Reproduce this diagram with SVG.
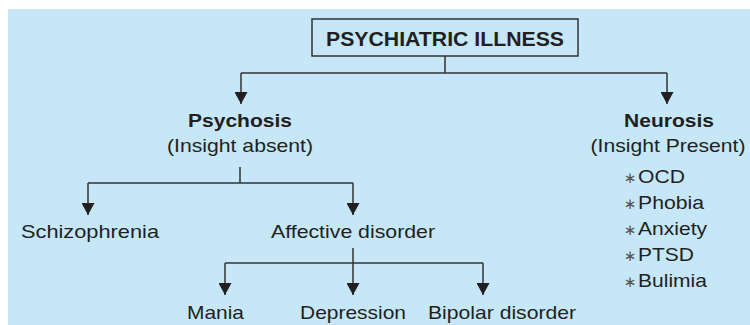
<svg xmlns="http://www.w3.org/2000/svg" width="750" height="325" viewBox="0 0 750 325">
<style>
  text { font-family: "Liberation Sans", Arial, sans-serif; fill: #231f20; }
  .title { font-size: 21px; font-weight: bold; }
  .bold { font-size: 18px; font-weight: bold; }
  .reg { font-size: 18.5px; }
  .star { font-family: "DejaVu Sans", sans-serif; font-size: 15px; fill: #555; }
  .ln { stroke: #333; stroke-width: 1.5; fill: none; }
</style>
<defs>
  <marker id="arr" markerUnits="userSpaceOnUse" markerWidth="13" markerHeight="13" refX="11" refY="6" orient="auto" viewBox="0 0 12 12">
    <path d="M0,0 L11,6 L0,12 Z" fill="#231f20"/>
  </marker>
</defs>
<rect x="0" y="0" width="750" height="325" fill="#ffffff"/>
<rect x="8" y="9" width="742" height="316" fill="#c6e7f8"/>

<g id="connectors">
  <path class="ln" d="M445,56 V73 M241,73 H667"/>
  <path class="ln" d="M241,73 V104" marker-end="url(#arr)"/>
  <path class="ln" d="M667,73 V104" marker-end="url(#arr)"/>
  <path class="ln" d="M240,167 V183 M88,183 H353"/>
  <path class="ln" d="M88,183 V215" marker-end="url(#arr)"/>
  <path class="ln" d="M353,183 V215" marker-end="url(#arr)"/>
  <path class="ln" d="M225,263 H483"/>
  <path class="ln" d="M353,248 V295" marker-end="url(#arr)"/>
  <path class="ln" d="M225,263 V295" marker-end="url(#arr)"/>
  <path class="ln" d="M483,263 V295" marker-end="url(#arr)"/>
</g>

<g id="psychiatric-illness">
  <rect class="ln" x="312" y="19" width="266" height="37"/>
  <text class="title" x="445" y="46" text-anchor="middle" textLength="238" lengthAdjust="spacingAndGlyphs">PSYCHIATRIC ILLNESS</text>
</g>

<g id="psychosis">
  <text class="bold" x="240" y="127" text-anchor="middle" textLength="104" lengthAdjust="spacingAndGlyphs">Psychosis</text>
  <text class="reg" x="240" y="152" text-anchor="middle" textLength="146" lengthAdjust="spacingAndGlyphs">(Insight absent)</text>
</g>

<g id="neurosis">
  <text class="bold" x="669" y="127" text-anchor="middle" textLength="90" lengthAdjust="spacingAndGlyphs">Neurosis</text>
  <text class="reg" x="668" y="152" text-anchor="middle" textLength="155" lengthAdjust="spacingAndGlyphs">(Insight Present)</text>
  <g id="neurosis-list">
    <text class="star" x="630" y="183" text-anchor="middle">∗</text>
    <text class="reg" x="638" y="183" textLength="47" lengthAdjust="spacingAndGlyphs">OCD</text>
    <text class="star" x="630" y="209" text-anchor="middle">∗</text>
    <text class="reg" x="638" y="209" textLength="66" lengthAdjust="spacingAndGlyphs">Phobia</text>
    <text class="star" x="630" y="235" text-anchor="middle">∗</text>
    <text class="reg" x="638" y="235" textLength="69" lengthAdjust="spacingAndGlyphs">Anxiety</text>
    <text class="star" x="630" y="261" text-anchor="middle">∗</text>
    <text class="reg" x="638" y="261" textLength="56" lengthAdjust="spacingAndGlyphs">PTSD</text>
    <text class="star" x="630" y="287" text-anchor="middle">∗</text>
    <text class="reg" x="638" y="287" textLength="69" lengthAdjust="spacingAndGlyphs">Bulimia</text>
  </g>
</g>

<g id="schizophrenia">
  <text class="reg" x="21" y="238" textLength="138" lengthAdjust="spacingAndGlyphs">Schizophrenia</text>
</g>

<g id="affective-disorder">
  <text class="reg" x="271" y="238" textLength="164" lengthAdjust="spacingAndGlyphs">Affective disorder</text>
</g>

<g id="mania">
  <text class="reg" x="187" y="319" textLength="57" lengthAdjust="spacingAndGlyphs">Mania</text>
</g>
<g id="depression">
  <text class="reg" x="300" y="319" textLength="106" lengthAdjust="spacingAndGlyphs">Depression</text>
</g>
<g id="bipolar-disorder">
  <text class="reg" x="428" y="319" textLength="148" lengthAdjust="spacingAndGlyphs">Bipolar disorder</text>
</g>
</svg>
